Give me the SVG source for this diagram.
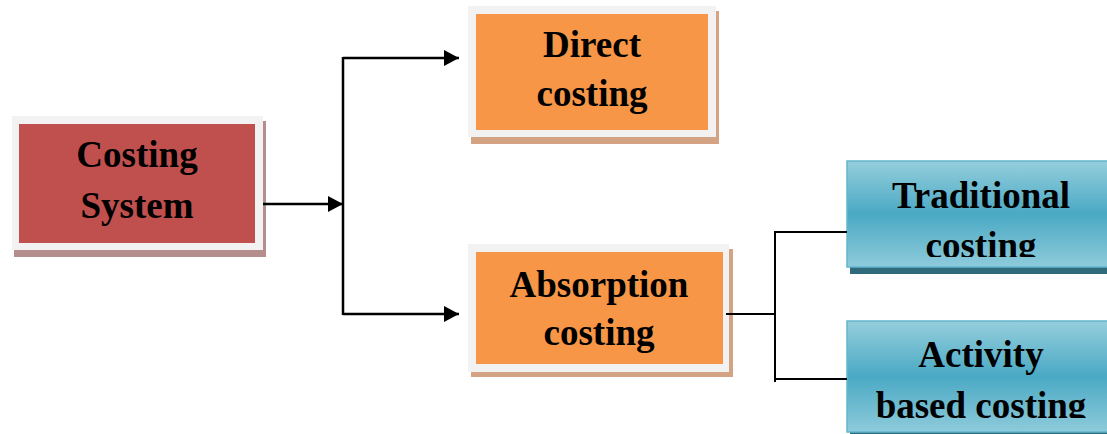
<svg xmlns="http://www.w3.org/2000/svg" width="1107" height="434" viewBox="0 0 1107 434">
  <style>
    .lbl { font-family: "Liberation Serif", "Times New Roman", serif; font-weight: bold; font-size: 37px; fill: #000; text-anchor: middle; }
    .frame { fill: #f2f2f2; }
    .conn { stroke: #000; stroke-width: 2.5; fill: none; }
    .conn2 { stroke: #000; stroke-width: 2; fill: none; }
    .teal { fill: url(#tealGrad); stroke: #62b6cc; stroke-width: 1.5; }
    .tealShadow { fill: #2f6b7d; }
  </style>
  <defs>
    <linearGradient id="tealGrad" x1="0" y1="0" x2="0" y2="1">
      <stop offset="0" stop-color="#95cedd"/>
      <stop offset="0.5" stop-color="#4aa9c4"/>
      <stop offset="1" stop-color="#8ecbdb"/>
    </linearGradient>
    <marker id="arrow" markerWidth="16" markerHeight="16" refX="15" refY="8" orient="auto" markerUnits="userSpaceOnUse">
      <path d="M0,0 L15,8 L0,16 Z" fill="#000"/>
    </marker>
    <clipPath id="clipTrad"><rect x="847" y="161" width="260" height="96"/></clipPath>
    <clipPath id="clipAct"><rect x="847" y="321" width="260" height="97"/></clipPath>
  </defs>

  <g id="costing-system">
    <rect x="14" y="121" width="252" height="136" fill="#b58d8d"/>
    <rect class="frame" x="12" y="116" width="251" height="134"/>
    <rect x="19" y="124" width="236" height="119" fill="#c0504d"/>
    <text class="lbl" x="137" y="167">Costing</text>
    <text class="lbl" x="137" y="218">System</text>
  </g>

  <g id="direct-costing">
    <rect x="471" y="11" width="248" height="133" fill="#d4a383"/>
    <rect class="frame" x="468" y="6" width="248" height="131"/>
    <rect x="476" y="14" width="232" height="116" fill="#f79646"/>
    <text class="lbl" x="592" y="57">Direct</text>
    <text class="lbl" x="592" y="106">costing</text>
  </g>

  <g id="absorption-costing">
    <rect x="471" y="249" width="262" height="128" fill="#d4a383"/>
    <rect class="frame" x="468" y="244" width="261" height="128"/>
    <rect x="476" y="252" width="247" height="112" fill="#f79646"/>
    <text class="lbl" x="599" y="297">Absorption</text>
    <text class="lbl" x="599" y="345">costing</text>
  </g>

  <g id="traditional-costing">
    <rect class="tealShadow" x="850" y="166" width="270" height="108"/>
    <rect class="teal" x="847" y="161" width="270" height="106"/>
    <g clip-path="url(#clipTrad)">
      <text class="lbl" x="981" y="208">Traditional</text>
      <text class="lbl" x="981" y="258">costing</text>
    </g>
  </g>

  <g id="activity-based-costing">
    <rect class="tealShadow" x="850" y="326" width="270" height="112"/>
    <rect class="teal" x="847" y="321" width="270" height="111"/>
    <g clip-path="url(#clipAct)">
      <text class="lbl" x="981" y="367">Activity</text>
      <text class="lbl" x="981" y="418">based costing</text>
    </g>
  </g>

  <g id="connectors">
    <line class="conn" x1="263" y1="204" x2="343" y2="204" marker-end="url(#arrow)"/>
    <line class="conn" x1="343" y1="57" x2="343" y2="315"/>
    <line class="conn" x1="343" y1="58" x2="459" y2="58" marker-end="url(#arrow)"/>
    <line class="conn" x1="343" y1="314" x2="459" y2="314" marker-end="url(#arrow)"/>
    <line class="conn2" x1="726" y1="314" x2="775" y2="314"/>
    <line class="conn2" x1="775" y1="231" x2="775" y2="382"/>
    <line class="conn2" x1="775" y1="232" x2="847" y2="232"/>
    <line class="conn2" x1="775" y1="379" x2="847" y2="379"/>
  </g>
</svg>
